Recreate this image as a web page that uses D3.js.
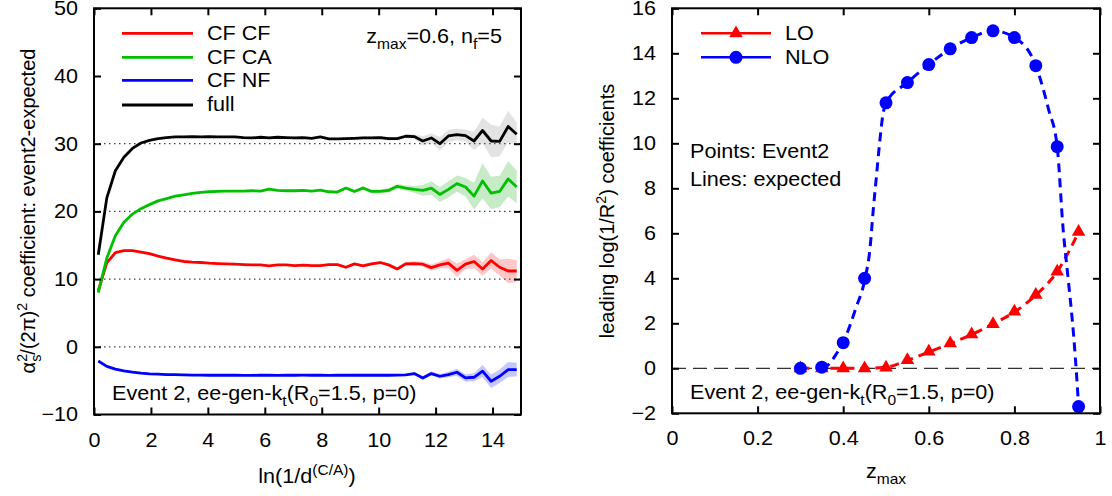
<!DOCTYPE html>
<html><head><meta charset="utf-8">
<script src="https://cdn.jsdelivr.net/npm/d3@7"></script>
<style>
body{margin:0;background:#fff}
text{font-family:"Liberation Sans",Arial,Helvetica,sans-serif;fill:#000}
</style></head><body>
<svg id="c" width="1112" height="496"></svg>
<script>
// ---------- Left panel data ----------
const xBins = [0.15,0.45,0.75,1.05,1.35,1.65,1.95,2.25,2.55,2.85,3.15,3.45,3.75,4.05,4.35,4.65,4.95,5.25,5.55,5.85,6.15,6.45,6.75,7.05,7.35,7.65,7.95,8.25,8.55,8.85,9.15,9.45,9.75,10.05,10.35,10.65,10.95,11.25,11.55,11.85,12.15,12.45,12.75,13.05,13.35,13.65,13.95,14.25,14.55,14.85];
const cfcf = [8.3,12.4,13.9,14.2,14.2,14.0,13.75,13.4,13.1,12.85,12.6,12.5,12.45,12.35,12.3,12.25,12.2,12.15,12.1,12.1,11.95,12.1,12.1,12.0,12.05,12.0,12.0,12.15,12.15,11.75,12.25,11.95,12.25,12.45,12.1,11.5,12.25,12.3,12.2,11.7,12.1,12.35,11.3,12.2,12.6,11.5,12.75,11.75,11.2,11.2];
const cfcfErr = [0.1,0.1,0.1,0.1,0.1,0.1,0.1,0.1,0.1,0.1,0.1,0.1,0.1,0.1,0.1,0.1,0.1,0.1,0.1,0.1,0.1,0.1,0.1,0.1,0.1,0.1,0.1,0.15,0.15,0.15,0.15,0.2,0.2,0.2,0.2,0.25,0.3,0.3,0.35,0.45,0.5,0.75,1.0,0.75,1.0,1.0,1.2,1.2,1.8,1.6];
const cfca = [8.0,13.1,16.4,18.4,19.6,20.4,21.0,21.55,21.9,22.25,22.45,22.65,22.8,22.9,22.95,23.0,23.0,23.0,23.05,23.0,23.3,23.1,23.05,23.05,23.1,23.0,23.15,22.9,22.85,23.45,22.95,23.45,22.95,22.95,23.1,23.7,23.45,23.25,23.1,23.45,22.5,23.25,24.1,23.6,22.25,24.5,22.7,22.95,24.8,23.6];
const cfcaErr = [0.1,0.1,0.1,0.1,0.1,0.1,0.1,0.1,0.1,0.1,0.1,0.1,0.1,0.1,0.1,0.1,0.1,0.1,0.1,0.1,0.1,0.1,0.1,0.1,0.1,0.1,0.1,0.15,0.2,0.2,0.25,0.25,0.3,0.3,0.35,0.35,0.4,0.5,0.8,1.0,1.1,1.2,1.2,1.35,2.0,2.6,2.4,2.3,2.6,2.4];
const cfnf = [-2.1,-2.9,-3.3,-3.55,-3.75,-3.9,-4.0,-4.05,-4.1,-4.12,-4.15,-4.17,-4.18,-4.2,-4.2,-4.2,-4.2,-4.21,-4.21,-4.2,-4.2,-4.21,-4.2,-4.2,-4.19,-4.2,-4.2,-4.21,-4.2,-4.2,-4.17,-4.2,-4.2,-4.2,-4.2,-4.17,-4.15,-3.95,-4.6,-3.95,-4.35,-4.1,-3.76,-4.6,-4.5,-3.6,-5.09,-4.35,-3.36,-3.36];
const cfnfErr = [0.1,0.1,0.1,0.1,0.1,0.1,0.1,0.1,0.1,0.1,0.1,0.1,0.1,0.1,0.1,0.1,0.1,0.1,0.1,0.1,0.1,0.1,0.1,0.1,0.1,0.1,0.1,0.1,0.1,0.1,0.1,0.15,0.15,0.15,0.15,0.15,0.15,0.2,0.3,0.3,0.35,0.4,0.5,0.55,0.6,0.9,1.0,1.0,1.1,1.0];
const full = [13.6,22.0,26.0,28.0,29.3,30.1,30.5,30.75,30.9,31.0,31.0,31.05,31.0,31.05,31.0,31.0,31.0,30.9,30.85,30.95,30.85,30.95,30.9,30.85,30.9,30.8,31.0,30.7,30.7,30.75,30.8,30.85,30.85,30.9,30.75,30.75,31.1,31.05,30.4,30.85,30.0,31.15,31.35,31.2,30.4,31.95,30.4,30.35,32.55,31.4];
const fullErr = [0.1,0.1,0.1,0.1,0.1,0.1,0.1,0.1,0.1,0.1,0.1,0.1,0.1,0.1,0.1,0.1,0.1,0.1,0.1,0.1,0.1,0.1,0.1,0.1,0.1,0.1,0.1,0.12,0.12,0.12,0.2,0.2,0.2,0.2,0.25,0.25,0.3,0.35,0.7,0.7,1.0,0.9,0.85,0.9,1.35,1.9,2.4,2.2,2.3,1.7];
const leftSeries = ["CF CF","CF CA","CF NF","full"];
const leftXTicks = [0,2,4,6,8,10,12,14];
const leftYTicks = [-10,0,10,20,30,40,50];
const leftGridLevels = [0,10,20,30];

// ---------- Right panel data ----------
const zmax = [0.30,0.35,0.40,0.45,0.50,0.55,0.60,0.65,0.70,0.75,0.80,0.85,0.90,0.95];
const loPts = [0,0,0.0,0.0,0.03,0.37,0.74,1.11,1.51,1.97,2.52,3.26,4.3,6.07];
const nloPts = [0,0.05,1.14,4.0,11.8,12.7,13.5,14.2,14.7,15.0,14.7,13.45,9.85,-1.7];
const loExpX = [0.30,0.35,0.40,0.45,0.50,0.55,0.60,0.65,0.70,0.75,0.80,0.85,0.90,0.95];
const loExpY = [0,0,0,0,0.05,0.35,0.72,1.1,1.5,1.97,2.5,3.25,4.3,6.05];
const nloExpX = [0.35,0.36,0.385,0.40,0.43,0.45,0.463,0.47,0.477,0.485,0.493,0.50,0.55,0.60,0.65,0.70,0.75,0.80,0.85,0.88,0.90,0.914,0.926,0.938,0.946,0.95];
const nloExpY = [0.0,0.07,0.67,1.15,2.7,3.9,5.4,7.0,8.4,10.0,11.3,11.8,12.7,13.5,14.2,14.7,15.0,14.7,13.45,11.5,9.85,6.15,3.9,1.55,-0.5,-1.7];
const rightXTicks = [0,0.2,0.4,0.6,0.8,1];
const rightYTicks = [-2,0,2,4,6,8,10,12,14,16];

// ---------- helpers ----------
const svg = d3.select("#c");
const FS = 20;
const SX = 1.08; // horizontal glyph stretch seen in the reference
function stretch(t, x, y) {
  t.attr("transform", `translate(${x},${y}) scale(${SX},1) translate(${-x},${-y})`);
  return t;
}
function rich(parent, x, y, parts, fs, anchor) {
  const t = parent.append("text").attr("x", x).attr("y", y)
    .attr("font-size", fs).attr("text-anchor", anchor || "start");
  let off = 0;
  parts.forEach(p => {
    const s = p[0], kind = p[1], dxv = p[2];
    const target = kind === "sub" ? fs * 0.3 : kind === "sup" ? -fs * 0.42 : 0;
    const ts = t.append("tspan").text(s).attr("dy", target - off)
      .attr("font-size", kind ? fs * 0.72 : fs);
    if (dxv) ts.attr("dx", dxv);
    off = target;
  });
  return t;
}
function frameAxes(g, x, y, xt, yt, xfmt) {
  const [x0, x1] = x.range(), [y0, y1] = y.range();
  const tk = 7;
  const ab = g.append("g").attr("transform", `translate(0,${y0})`)
    .call(d3.axisBottom(x).tickValues(xt).tickSizeInner(-tk).tickSizeOuter(0).tickPadding(18).tickFormat(xfmt));
  const at = g.append("g").attr("transform", `translate(0,${y1})`)
    .call(d3.axisTop(x).tickValues(xt).tickSizeInner(-tk).tickSizeOuter(0).tickFormat(""));
  const al = g.append("g").attr("transform", `translate(${x0},0)`)
    .call(d3.axisLeft(y).tickValues(yt).tickSizeInner(-tk).tickSizeOuter(0).tickPadding(16).tickFormat(d3.format("d")));
  const ar = g.append("g").attr("transform", `translate(${x1},0)`)
    .call(d3.axisRight(y).tickValues(yt).tickSizeInner(-tk).tickSizeOuter(0).tickFormat(""));
  [ab, at, al, ar].forEach(a => {
    a.select(".domain").remove();
    a.selectAll("line").attr("stroke", "#000").attr("stroke-width", 2);
    a.selectAll("text").attr("font-size", FS).attr("font-family", '"Liberation Sans",Arial,sans-serif').attr("fill", "#000");
  });
  ab.selectAll("text").attr("transform", `scale(${SX},1)`);
  al.selectAll("text").attr("transform", `translate(-16,0) scale(${SX},1) translate(16,0)`);
  g.append("rect").attr("x", x0).attr("y", y1).attr("width", x1 - x0).attr("height", y0 - y1)
    .attr("fill", "none").attr("stroke", "#000").attr("stroke-width", 2);
}

// ---------- Left panel ----------
const xL = d3.scaleLinear().domain([0, 15]).range([94, 521]);
const yL = d3.scaleLinear().domain([-10, 50]).range([414.5, 8.3]);
const gL = svg.append("g");
gL.selectAll("line.grid").data(leftGridLevels).join("line")
  .attr("x1", xL(0)).attr("x2", xL(15)).attr("y1", d => yL(d)).attr("y2", d => yL(d))
  .attr("stroke", "#444").attr("stroke-width", 1.3).attr("stroke-dasharray", "1.5,3.5");

const leftData = [
  {name: leftSeries[0], v: cfcf, e: cfcfErr, color: "#ff0000", band: "#ff0000"},
  {name: leftSeries[1], v: cfca, e: cfcaErr, color: "#00c000", band: "#00a000"},
  {name: leftSeries[2], v: cfnf, e: cfnfErr, color: "#0000ff", band: "#0000ff"},
  {name: leftSeries[3], v: full, e: fullErr, color: "#000000", band: "#808080"}
];
const area = d3.area().x((d, i) => xL(xBins[i]));
const line = d3.line().x((d, i) => xL(xBins[i])).y(d => yL(d));
leftData.forEach(s => {
  gL.append("path").datum(s.v)
    .attr("d", area.y0((d, i) => yL(d - s.e[i])).y1((d, i) => yL(d + s.e[i])))
    .attr("fill", s.band).attr("fill-opacity", 0.22).attr("stroke", "none");
});
leftData.forEach(s => {
  gL.append("path").datum(s.v).attr("d", line)
    .attr("fill", "none").attr("stroke", s.color).attr("stroke-width", 2.8)
    .attr("stroke-linejoin", "round");
});
frameAxes(gL, xL, yL, leftXTicks, leftYTicks, d3.format("d"));

// legend left
const legYL = [33.3, 57.3, 80.3, 105];
leftData.forEach((s, i) => {
  gL.append("line").attr("x1", 122).attr("x2", 193).attr("y1", legYL[i]).attr("y2", legYL[i])
    .attr("stroke", s.color).attr("stroke-width", 2.8);
  stretch(gL.append("text").attr("x", 207).attr("y", legYL[i] + 6.5).attr("font-size", FS).text(s.name), 207, legYL[i] + 6.5);
});
stretch(rich(gL, 502, 43, [["z"], ["max", "sub"], ["=0.6, n"], ["f", "sub"], ["=5"]], FS, "end"), 502, 43);
stretch(rich(gL, 112, 400, [["Event 2, ee-gen-k"], ["t", "sub"], ["(R"], ["0", "sub"], ["=1.5, p=0)"]], FS), 112, 400);
// axis titles
stretch(rich(gL, 307, 483, [["ln(1/d"], ["(C/A)", "sup"], [")"]], FS, "middle"), 307, 483);
rich(gL, 35, 211, [["\u03b1"], ["2", "sup"], ["s", "sub", -8], ["/(2\u03c0)"], ["2", "sup"], [" coefficient: event2-expected"]], FS, "middle")
  .attr("transform", "rotate(-90,35,211)");

// ---------- Right panel ----------
const xR = d3.scaleLinear().domain([0, 1]).range([672, 1100]);
const yR = d3.scaleLinear().domain([-2, 16]).range([413.3, 8.3]);
const gR = svg.append("g");
gR.append("line").attr("x1", xR(0)).attr("x2", xR(1)).attr("y1", yR(0)).attr("y2", yR(0))
  .attr("stroke", "#333").attr("stroke-width", 1.3).attr("stroke-dasharray", "14,7");

const lineR = d3.line().curve(d3.curveMonotoneX);
gR.append("path").attr("d", lineR(loExpX.map((x, i) => [xR(x), yR(loExpY[i])])))
  .attr("fill", "none").attr("stroke", "#ff0000").attr("stroke-width", 3).attr("stroke-dasharray", "9,6");
gR.append("path").attr("d", lineR(nloExpX.map((x, i) => [xR(x), yR(nloExpY[i])])))
  .attr("fill", "none").attr("stroke", "#0000ff").attr("stroke-width", 3).attr("stroke-dasharray", "9,6");

const tri = d3.symbol().type(d3.symbolTriangle).size(80);
gR.selectAll("path.lo").data(zmax).join("path").attr("class", "lo")
  .attr("d", tri).attr("transform", (d, i) => `translate(${xR(d)},${yR(loPts[i])})`)
  .attr("fill", "#ff0000");
gR.selectAll("circle.nlo").data(zmax).join("circle").attr("class", "nlo")
  .attr("cx", d => xR(d)).attr("cy", (d, i) => yR(nloPts[i])).attr("r", 6.5)
  .attr("fill", "#0000ff");

frameAxes(gR, xR, yR, rightXTicks, rightYTicks, d => String(+d.toFixed(1)));

// legend right
[["LO", "#ff0000", 33.3, "tri"], ["NLO", "#0000ff", 57.3, "circ"]].forEach(l => {
  gR.append("line").attr("x1", 701).attr("x2", 771).attr("y1", l[2]).attr("y2", l[2])
    .attr("stroke", l[1]).attr("stroke-width", 2.5);
  if (l[3] === "tri") gR.append("path").attr("d", tri).attr("transform", `translate(736,${l[2]})`).attr("fill", l[1]);
  else gR.append("circle").attr("cx", 736).attr("cy", l[2]).attr("r", 6.5).attr("fill", l[1]);
  stretch(gR.append("text").attr("x", 785).attr("y", l[2] + 7).attr("font-size", FS).text(l[0]), 785, l[2] + 7);
});
stretch(gR.append("text").attr("x", 690).attr("y", 158).attr("font-size", FS).text("Points: Event2"), 690, 158);
stretch(gR.append("text").attr("x", 690).attr("y", 186).attr("font-size", FS).text("Lines: expected"), 690, 186);
stretch(rich(gR, 690, 399, [["Event 2, ee-gen-k"], ["t", "sub"], ["(R"], ["0", "sub"], ["=1.5, p=0)"]], FS), 690, 399);
stretch(rich(gR, 886, 478, [["z"], ["max", "sub"]], FS, "middle"), 886, 478);
rich(gR, 614, 211, [["leading log(1/R"], ["2", "sup"], [") coefficients"]], FS, "middle")
  .attr("transform", "rotate(-90,614,211)");
</script>
</body></html>
